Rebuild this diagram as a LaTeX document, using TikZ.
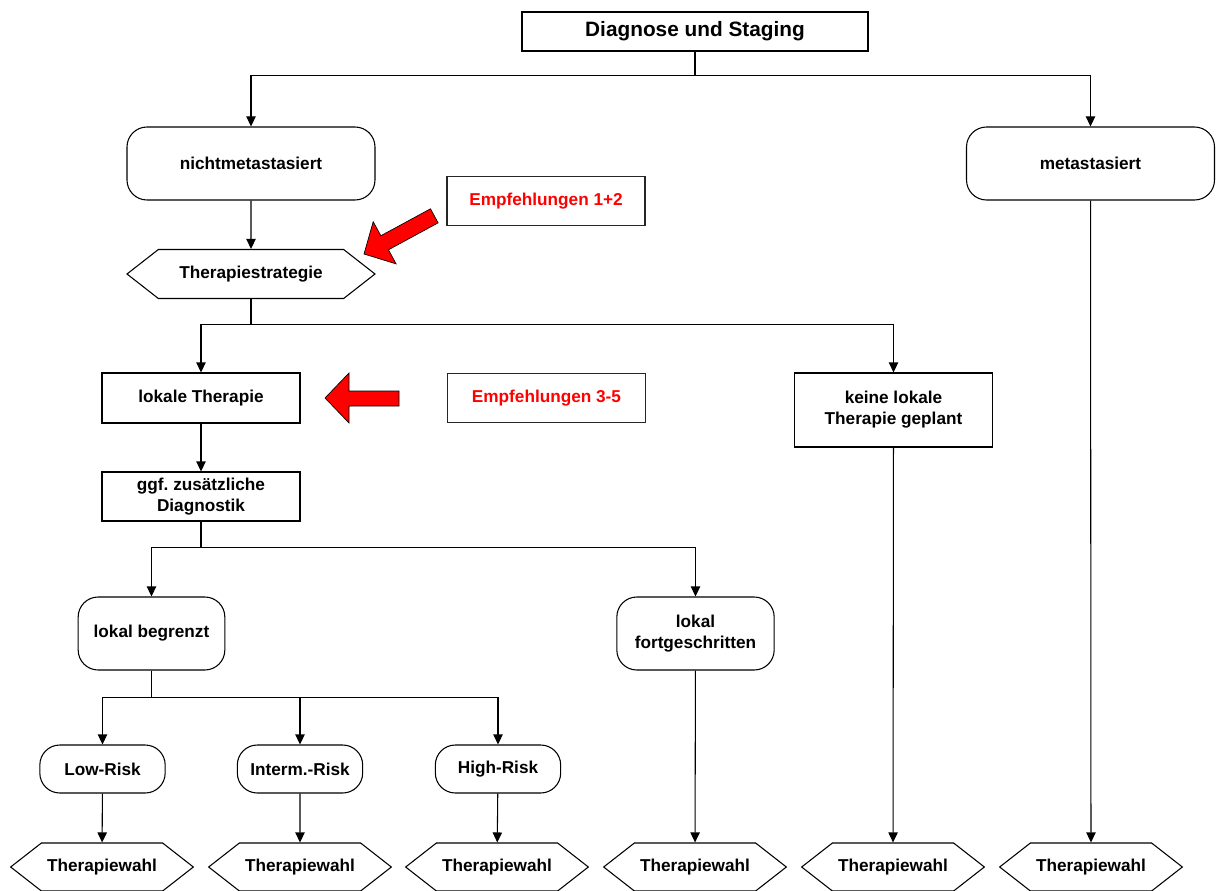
\documentclass[tikz,border=0pt]{standalone}
\usepackage{fontspec}
\setmainfont{Liberation Sans}
\usetikzlibrary{arrows.meta,shapes.symbols}

\begin{document}
\begin{tikzpicture}[
    x=0.75pt, y=-0.75pt,
    every node/.style={font=\fontsize{12.9}{15.7}\selectfont\bfseries,
      align=center, inner sep=0pt},
    kasten/.style={rectangle, draw=black, line width=0.8pt, fill=white},
    rund/.style={kasten, rounded corners=15pt},
    sechseck/.style={signal, signal to=west and east, signal pointer angle=76,
      draw=black, line width=0.8pt, fill=white},
    empf/.style={kasten, draw=black!85, text=red, minimum width=148.5pt,
      minimum height=37pt},
    linie/.style={line width=0.8pt, -{Triangle[length=7.5pt,width=7pt]}},
    rotpfeil/.style={fill=red, draw=black, line width=0.5pt, line join=miter}
  ]
  \useasboundingbox (0,0) rectangle (1220,891);

  \path (695,31.5) node(diag) [kasten, minimum width=259.5pt, minimum height=29.25pt,
    font=\fontsize{15.6}{18}\selectfont\bfseries] {Diagnose und Staging}
  (251,163.5) node(nicht) [rund, minimum width=186pt, minimum height=54.75pt] {nichtmetastasiert}
  (1090.5,163.5) node(meta) [rund, minimum width=186pt, minimum height=54.75pt] {metastasiert}
  (546,201) node(empfA) [empf] {Empfehlungen 1+2}
  (251,274) node(strat) [sechseck, minimum width=186pt, minimum height=36.75pt] {Therapiestrategie}
  (201,398) node(lokal) [kasten, minimum width=148.5pt, minimum height=37.5pt] {lokale Therapie}
  (546.5,398) node(empfB) [empf] {Empfehlungen 3-5}
  (893.5,410) node(keine) [kasten, minimum width=148pt, minimum height=55.5pt] {keine lokale\\Therapie geplant}
  (201,496.5) node(ggf) [kasten, minimum width=148.5pt, minimum height=36.75pt] {ggf.\ zusätzliche\\Diagnostik}
  (151.5,633.5) node(begrenzt) [rund, minimum width=110pt, minimum height=54.75pt] {lokal begrenzt}
  (695.5,633.5) node(fortg) [rund, minimum width=118pt, minimum height=54.75pt] {lokal\\fortgeschritten}
  (102.5,769) node(low) [rund, minimum width=94pt, minimum height=36pt] {Low-Risk}
  (300,769) node(interm) [rund, minimum width=94pt, minimum height=36pt] {Interm.-Risk}
  (498,769) node(high) [rund, minimum width=94pt, minimum height=36pt] {High-Risk};

  \foreach \n/\x in {1/102,2/300,3/497,4/695,5/893,6/1091}
    \path (\x,867) node(wahl\n) [sechseck, minimum width=137pt, minimum height=36pt] {Therapiewahl};

  % Verzweigungen
  \draw[linie] (diag.south) -- ++(0,24) -| (nicht.north);
  \draw[linie] (diag.south) -- ++(0,24) -| (meta.north);
  \draw[linie] (nicht) -- (strat);
  \draw[linie] (strat.south) -- ++(0,25) -| (lokal.north);
  \draw[linie] (strat.south) -- ++(0,25) -| (keine.north);
  \draw[linie] (lokal) -- (ggf);
  \draw[linie] (ggf.south) -- ++(0,26) -| (begrenzt.north);
  \draw[linie] (ggf.south) -- ++(0,26) -| (fortg.north);
  \draw[linie] (begrenzt.south) -- ++(0,27) -| (low.north);
  \draw[linie] (begrenzt.south) -- ++(0,27) -| (interm.north);
  \draw[linie] (begrenzt.south) -- ++(0,27) -| (high.north);
  \draw[linie] (low) -- (wahl1);
  \draw[linie] (interm) -- (wahl2);
  \draw[linie] (high) -- (wahl3);
  \draw[linie] (fortg) -- (wahl4);
  \draw[linie] (keine) -- (wahl5);
  \draw[linie] (meta) -- (wahl6);

  % rote Pfeile
  \filldraw[rotpfeil, shift={(364,254)}, rotate=28.5]
    (0,0) -- (23.5,-24) -- (23.5,-8) -- (80,-8) -- (80,8) -- (23.5,8) -- (23.5,24) -- cycle;
  \filldraw[rotpfeil]
    (325,398) -- (349,373) -- (349,391) -- (399,391) -- (399,406) -- (349,406) -- (349,423) -- cycle;
\end{tikzpicture}
\end{document}
